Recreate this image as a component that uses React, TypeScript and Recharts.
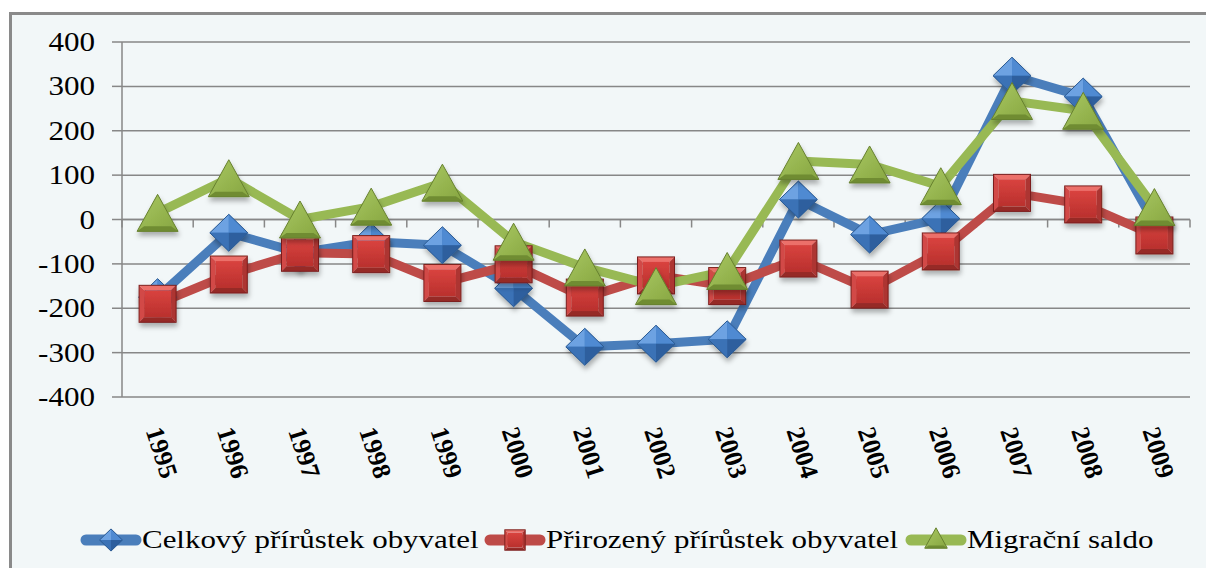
import { CartesianGrid, Line, LineChart, ReferenceLine, XAxis, YAxis } from "recharts";

const years = ["1995", "1996", "1997", "1998", "1999", "2000", "2001", "2002", "2003", "2004", "2005", "2006", "2007", "2008", "2009"];
const celkovy = [-175, -30, -75, -50, -58, -155, -287, -280, -270, 45, -34, 2, 324, 277, -8];
const prirozeny = [-190, -124, -75, -78, -143, -101, -176, -126, -150, -88, -158, -72, 60, 34, -36];
const migracni = [15, 93, 0, 29, 83, -50, -108, -150, -116, 132, 124, 75, 267, 245, 28];
const yTicks = [-400, -300, -200, -100, 0, 100, 200, 300, 400];

const seriesNames = ["Celkový přírůstek obyvatel", "Přirozený přírůstek obyvatel", "Migrační saldo"];

const data = years.map((year, i) => ({
  year,
  celkovy: celkovy[i],
  prirozeny: prirozeny[i],
  migracni: migracni[i],
}));

const FONT = "Liberation Serif, Tinos, serif";
const GRID = "#878787";
const BLUE = "#4a7ebb";
const RED = "#be4b48";
const GREEN = "#98b954";

function Diamond({ cx, cy, s = 1 }: { cx: number; cy: number; s?: number }) {
  const w = 19 * s;
  const h = 18.5 * s;
  const t = `${cx},${cy - h}`;
  const r = `${cx + w},${cy}`;
  const b = `${cx},${cy + h}`;
  const l = `${cx - w},${cy}`;
  const c = `${cx},${cy}`;
  return (
    <g filter={s === 1 ? "url(#mshadow)" : undefined}>
      <polygon points={`${t} ${r} ${b} ${l}`} fill="#3f78bd" />
      <polygon points={`${t} ${l} ${c}`} fill="#6da2e2" />
      <polygon points={`${t} ${r} ${c}`} fill="#4f8ad2" />
      <polygon points={`${l} ${b} ${c}`} fill="#3b72b6" />
      <polygon points={`${r} ${b} ${c}`} fill="#2e5f9e" />
      <polygon points={`${t} ${r} ${b} ${l}`} fill="none" stroke="#2b5a92" strokeWidth={1} />
    </g>
  );
}

function Square({ cx, cy, s = 1 }: { cx: number; cy: number; s?: number }) {
  const h = 18.5 * s;
  const bv = 5 * s;
  const x0 = cx - h, x1 = cx + h, y0 = cy - h, y1 = cy + h;
  const i0 = x0 + bv, i1 = x1 - bv, j0 = y0 + bv, j1 = y1 - bv;
  return (
    <g filter={s === 1 ? "url(#mshadow)" : undefined}>
      <polygon points={`${x0},${y0} ${x1},${y0} ${i1},${j0} ${i0},${j0}`} fill="#ec6f6a" />
      <polygon points={`${x0},${y0} ${i0},${j0} ${i0},${j1} ${x0},${y1}`} fill="#d24a46" />
      <polygon points={`${x1},${y0} ${x1},${y1} ${i1},${j1} ${i1},${j0}`} fill="#ad3431" />
      <polygon points={`${x0},${y1} ${i0},${j1} ${i1},${j1} ${x1},${y1}`} fill="#962a28" />
      <rect x={i0} y={j0} width={i1 - i0} height={j1 - j0} fill="url(#sqfill)" />
      <rect x={x0} y={y0} width={2 * h} height={2 * h} fill="none" stroke="#7c1f1d" strokeWidth={1} />
    </g>
  );
}

function Triangle({ cx, cy, s = 1 }: { cx: number; cy: number; s?: number }) {
  const w = 20.5 * s;
  const h = 18.5 * s;
  const bv = 5 * s;
  const apex = `${cx},${cy - h}`;
  const bl = `${cx - w},${cy + h}`;
  const br = `${cx + w},${cy + h}`;
  const ibl = `${cx - w + bv * 1.4},${cy + h - bv}`;
  const ibr = `${cx + w - bv * 1.4},${cy + h - bv}`;
  return (
    <g filter={s === 1 ? "url(#mshadow)" : undefined}>
      <polygon points={`${apex} ${bl} ${br}`} fill="url(#trfill)" />
      <polygon points={`${bl} ${br} ${ibr} ${ibl}`} fill="#6f8c33" />
      <polygon points={`${apex} ${bl} ${br}`} fill="none" stroke="#66802e" strokeWidth={1} />
    </g>
  );
}

function YTick({ x, y, payload }: any) {
  return (
    <text
      transform={`translate(${x},${y + 9}) scale(1.15,1)`}
      textAnchor="end"
      fontFamily={FONT}
      fontSize={27}
      fill="#000"
    >
      {payload.value}
    </text>
  );
}

function XTick({ x, y, payload }: any) {
  const sx = x - 4;
  const sy = y + 31;
  return (
    <text
      x={sx}
      y={sy}
      transform={`rotate(72, ${sx}, ${sy})`}
      textAnchor="start"
      dominantBaseline="central"
      fontFamily={FONT}
      fontWeight="bold"
      fontSize={26}
      fill="#000"
    >
      {payload.value}
    </text>
  );
}

// zero line with little category ticks, like the category axis crossing at 0
function ZeroAxis({ x1, x2, y1 }: any) {
  const n = years.length;
  const step = (x2 - x1) / n;
  return (
    <g>
      <line x1={x1} x2={x2} y1={y1} y2={y1} stroke={GRID} strokeWidth={1.5} />
      {Array.from({ length: n + 1 }, (_, k) => (
        <line key={k} x1={x1 + step * k} x2={x1 + step * k} y1={y1} y2={y1 + 8} stroke={GRID} strokeWidth={1.5} />
      ))}
    </g>
  );
}

function LegendItem({ x, color, marker, label }: { x: number; color: string; marker: string; label: string }) {
  const cy = 540;
  return (
    <g>
      <line x1={x + 5} x2={x + 55} y1={cy} y2={cy} stroke={color} strokeWidth={11} strokeLinecap="round" />
      {marker === "d" && <Diamond cx={x + 30} cy={cy} s={0.6} />}
      {marker === "s" && <Square cx={x + 30} cy={cy} s={0.55} />}
      {marker === "t" && <Triangle cx={x + 30} cy={cy - 2} s={0.55} />}
      <text transform={`translate(${x + 61},${cy + 8}) scale(1.19,1)`} fontFamily={FONT} fontSize={26} fill="#000">
        {label}
      </text>
    </g>
  );
}

export default function App() {
  return (
    <div style={{ position: "absolute", left: 0, top: 0, width: 1206, height: 568, background: "#fff", overflow: "hidden" }}>
      <svg width={0} height={0} style={{ position: "absolute" }}>
        <defs>
          <filter id="mshadow" x="-30%" y="-30%" width="160%" height="170%">
            <feDropShadow dx={1} dy={4} stdDeviation={2.5} floodColor="#000" floodOpacity={0.3} />
          </filter>
          <linearGradient id="sqfill" x1="0" y1="0" x2="0" y2="1">
            <stop offset="0%" stopColor="#d9433f" />
            <stop offset="100%" stopColor="#b9302d" />
          </linearGradient>
          <linearGradient id="trfill" x1="0" y1="0" x2="1" y2="1">
            <stop offset="0%" stopColor="#a9c862" />
            <stop offset="100%" stopColor="#86a540" />
          </linearGradient>
        </defs>
      </svg>
      <div
        style={{
          position: "absolute",
          left: 9,
          top: 12,
          width: 1210,
          height: 570,
          border: "3px solid #8a8a8a",
          background: "#f2f7f8",
        }}
      />
      <div style={{ position: "absolute", left: 0, top: 0 }}>
        <LineChart width={1206} height={568} data={data} margin={{ top: 42, right: 16, left: 0, bottom: 0 }}>
          <CartesianGrid vertical={false} stroke={GRID} strokeWidth={1.5} />
          <XAxis
            dataKey="year"
            scale="band"
            height={171}
            axisLine={false}
            tickLine={false}
            tickSize={0}
            tickMargin={0}
            interval={0}
            tick={<XTick />}
          />
          <YAxis
            width={122}
            domain={[-400, 400]}
            ticks={yTicks}
            interval={0}
            axisLine={{ stroke: GRID, strokeWidth: 1.5 }}
            tickLine={{ stroke: GRID, strokeWidth: 1.5 }}
            tickSize={10}
            tickMargin={17}
            tick={<YTick />}
          />
          <ReferenceLine y={0} shape={<ZeroAxis />} />
          <Line
            dataKey="celkovy"
            stroke={BLUE}
            strokeWidth={9}
            strokeLinejoin="round"
            isAnimationActive={false}
            dot={(p: any) => <Diamond key={p.index} cx={p.cx} cy={p.cy} />}
            activeDot={false}
          />
          <Line
            dataKey="prirozeny"
            stroke={RED}
            strokeWidth={9}
            strokeLinejoin="round"
            isAnimationActive={false}
            dot={(p: any) => <Square key={p.index} cx={p.cx} cy={p.cy} />}
            activeDot={false}
          />
          <Line
            dataKey="migracni"
            stroke={GREEN}
            strokeWidth={9}
            strokeLinejoin="round"
            isAnimationActive={false}
            dot={(p: any) => <Triangle key={p.index} cx={p.cx} cy={p.cy} />}
            activeDot={false}
          />
        </LineChart>
      </div>
      <svg width={1206} height={568} style={{ position: "absolute", left: 0, top: 0, pointerEvents: "none" }}>
        <LegendItem x={81} color={BLUE} marker="d" label={seriesNames[0]} />
        <LegendItem x={485} color={RED} marker="s" label={seriesNames[1]} />
        <LegendItem x={906} color={GREEN} marker="t" label={seriesNames[2]} />
      </svg>
    </div>
  );
}
